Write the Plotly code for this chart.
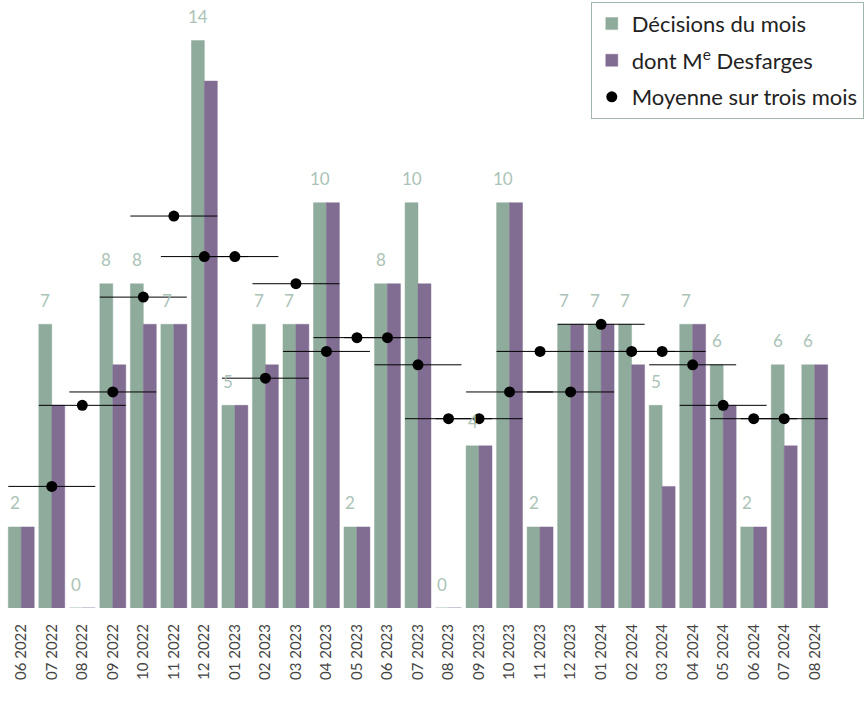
import plotly.graph_objects as go

months = ["06 2022", "07 2022", "08 2022", "09 2022", "10 2022", "11 2022", "12 2022",
          "01 2023", "02 2023", "03 2023", "04 2023", "05 2023", "06 2023", "07 2023",
          "08 2023", "09 2023", "10 2023", "11 2023", "12 2023", "01 2024", "02 2024",
          "03 2024", "04 2024", "05 2024", "06 2024", "07 2024", "08 2024"]
decisions = [2, 7, 0, 8, 8, 7, 14, 5, 7, 7, 10, 2, 8, 10, 0, 4, 10, 2, 7, 7, 7, 5, 7, 6, 2, 6, 6]
desfarges = [2, 5, 0, 6, 7, 7, 13, 5, 6, 7, 10, 2, 8, 8, 0, 4, 10, 2, 7, 7, 6, 3, 7, 5, 2, 4, 6]
moyenne = [None, 3, 5, 5.33, 7.67, 9.67, 8.67, 8.67, 5.67, 8, 6.33, 6.67, 6.67, 6,
           4.67, 4.67, 5.33, 6.33, 5.33, 7, 6.33, 6.33, 6, 5, 4.67, 4.67, None]

GREEN = "#8fab9c"
PURPLE = "#816c92"
LABEL = "#abc3b7"
FONT = "Futura, 'Century Gothic', Lato, sans-serif"
BARGAP = 0.15

x = list(range(len(months)))
fig = go.Figure()
fig.add_trace(go.Bar(x=x, y=decisions, name="Décisions du mois", legendgroup="a",
                     marker=dict(color=GREEN, line=dict(color="rgba(143,171,156,0.45)", width=1))))
fig.add_trace(go.Bar(x=x, y=desfarges, name="dont M<sup>e</sup> Desfarges", legendgroup="b",
                     marker=dict(color=PURPLE, line=dict(color="rgba(129,108,146,0.45)", width=1))))

# value labels above the green bars
half = (1 - BARGAP) / 4
for i, v in enumerate(decisions):
    fig.add_annotation(x=i - half, y=v, text=str(v), showarrow=False, yshift=24,
                       font=dict(family=FONT, size=17, color=LABEL))

span = 1 + (1 - BARGAP) / 2
fig.add_trace(go.Scatter(x=x, y=moyenne, mode="markers", name="Moyenne sur trois mois",
                         legendgroup="c",
                         marker=dict(color="black", size=11),
                         error_x=dict(type="data", array=[span] * len(x), symmetric=True,
                                      thickness=1, width=0, color="black")))

fig.update_layout(
    width=866, height=705,
    margin=dict(l=6, r=36, t=0, b=97),
    paper_bgcolor="white", plot_bgcolor="white",
    barmode="group", bargap=BARGAP, bargroupgap=0,
    font=dict(family=FONT, color="#444444"),
    showlegend=True,
    legend=dict(x=1.041, xanchor="right", y=0.997, yanchor="top",
                bgcolor="white", bordercolor="#9fb8ab", borderwidth=1,
                font=dict(family=FONT, size=22, color="#222222"),
                traceorder="grouped", tracegroupgap=5),
    xaxis=dict(range=[-0.5, len(months) - 0.5], tickmode="array", tickvals=x, ticktext=months,
               tickangle=-90, showgrid=False, zeroline=False, showline=False, ticks="",
               tickfont=dict(family=FONT, size=15, color="#444444"), ticklabelstandoff=12),
    yaxis=dict(range=[0, 15], visible=False, showgrid=False, zeroline=False),
)

fig.write_html("out.html", config={"displayModeBar": False},
               post_script="document.body.style.margin='0';")
